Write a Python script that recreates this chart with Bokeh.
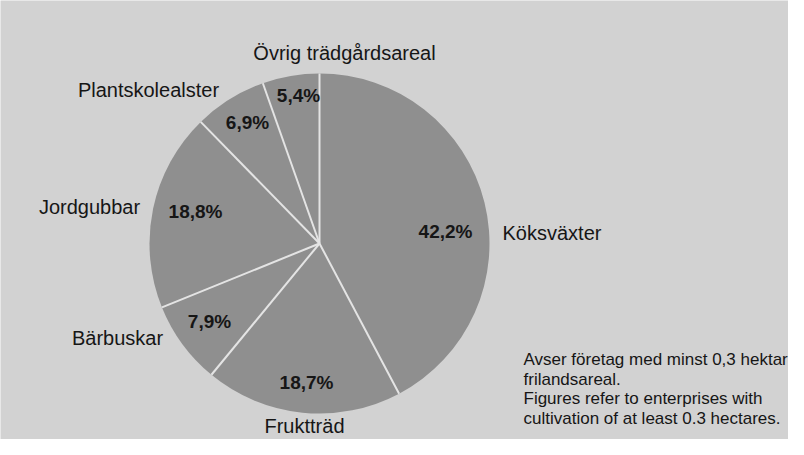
import math
from bokeh.plotting import figure
from bokeh.models import Range1d, ColumnDataSource
from bokeh.core.properties import value
from bokeh.embed import file_html
from bokeh.resources import INLINE

# ---- data ----
categories = ["Köksväxter", "Fruktträd", "Bärbuskar", "Jordgubbar",
              "Plantskolealster", "Övrig trädgårdsareal"]
shares = [42.2, 18.7, 7.9, 18.8, 6.9, 5.4]
pct_labels = ["42,2%", "18,7%", "7,9%", "18,8%", "6,9%", "5,4%"]
note_lines = ["Avser företag med minst 0,3 hektar",
              "frilandsareal.",
              "Figures refer to enterprises with",
              "cultivation of at least 0.3 hectares."]

# ---- layout / style ----
W, H = 788, 439
BG = "#d2d2d2"
PIE = "#8f8f8f"
SEP = "#e4e4e4"
INK = "#161616"
FONT = value("Liberation Sans")
CX, CY, R = 319, 196, 170          # pie centre & radius (plot units = px)
# label offsets from the centre (dx, dy up), per slice
pct_off = [(126, 12), (-13, -139), (-110, -78), (-124, 32), (-72, 121), (-21, 148)]
cat_off = [(183, 11, "left"), (-15, -182, "center"), (-202, -94, "center"),
           (-230, 37, "center"), (-171, 154, "center"), (25, 191, "center")]
NOTE_X, NOTE_Y0, NOTE_DY = 523, 80, 19.5

p = figure(width=W, height=H, output_backend="svg", toolbar_location=None,
           x_range=Range1d(0, W), y_range=Range1d(0, H), min_border=0)
p.axis.visible = False
p.grid.visible = False
p.outline_line_color = None
p.background_fill_color = BG
p.border_fill_color = BG

total = sum(shares)
starts, ends = [], []
acc = 0.0
for s in shares:
    a0 = math.pi / 2 - 2 * math.pi * acc / total
    acc += s
    a1 = math.pi / 2 - 2 * math.pi * acc / total
    starts.append(a0)
    ends.append(a1)

src = ColumnDataSource(dict(x=[CX] * len(shares), y=[CY] * len(shares),
                            start=starts, end=ends, cat=categories))
p.wedge(x="x", y="y", radius=R, start_angle="start", end_angle="end",
        direction="clock", source=src, fill_color=PIE, line_color=None)

# separator lines
p.segment(x0=[CX] * len(starts), y0=[CY] * len(starts),
          x1=[CX + R * math.cos(a) for a in starts],
          y1=[CY + R * math.sin(a) for a in starts],
          line_color=SEP, line_width=2)

# percentage labels
p.text(x=[CX + d[0] for d in pct_off], y=[CY + d[1] for d in pct_off],
       text=pct_labels, text_align="center", text_baseline="middle",
       text_font=FONT, text_font_size="19px", text_font_style="bold",
       text_color=INK)

# category labels
for (dx, dy, al), cat in zip(cat_off, categories):
    p.text(x=[CX + dx], y=[CY + dy], text=[cat], text_align=al,
           text_baseline="middle", text_font=FONT, text_font_size="20px",
           text_color=INK)

# note
p.text(x=[NOTE_X] * len(note_lines),
       y=[NOTE_Y0 - i * NOTE_DY for i in range(len(note_lines))],
       text=note_lines, text_align="left", text_baseline="middle",
       text_font=FONT, text_font_size="17px", text_color=INK)

open("out.html", "w").write(file_html(p, INLINE))
